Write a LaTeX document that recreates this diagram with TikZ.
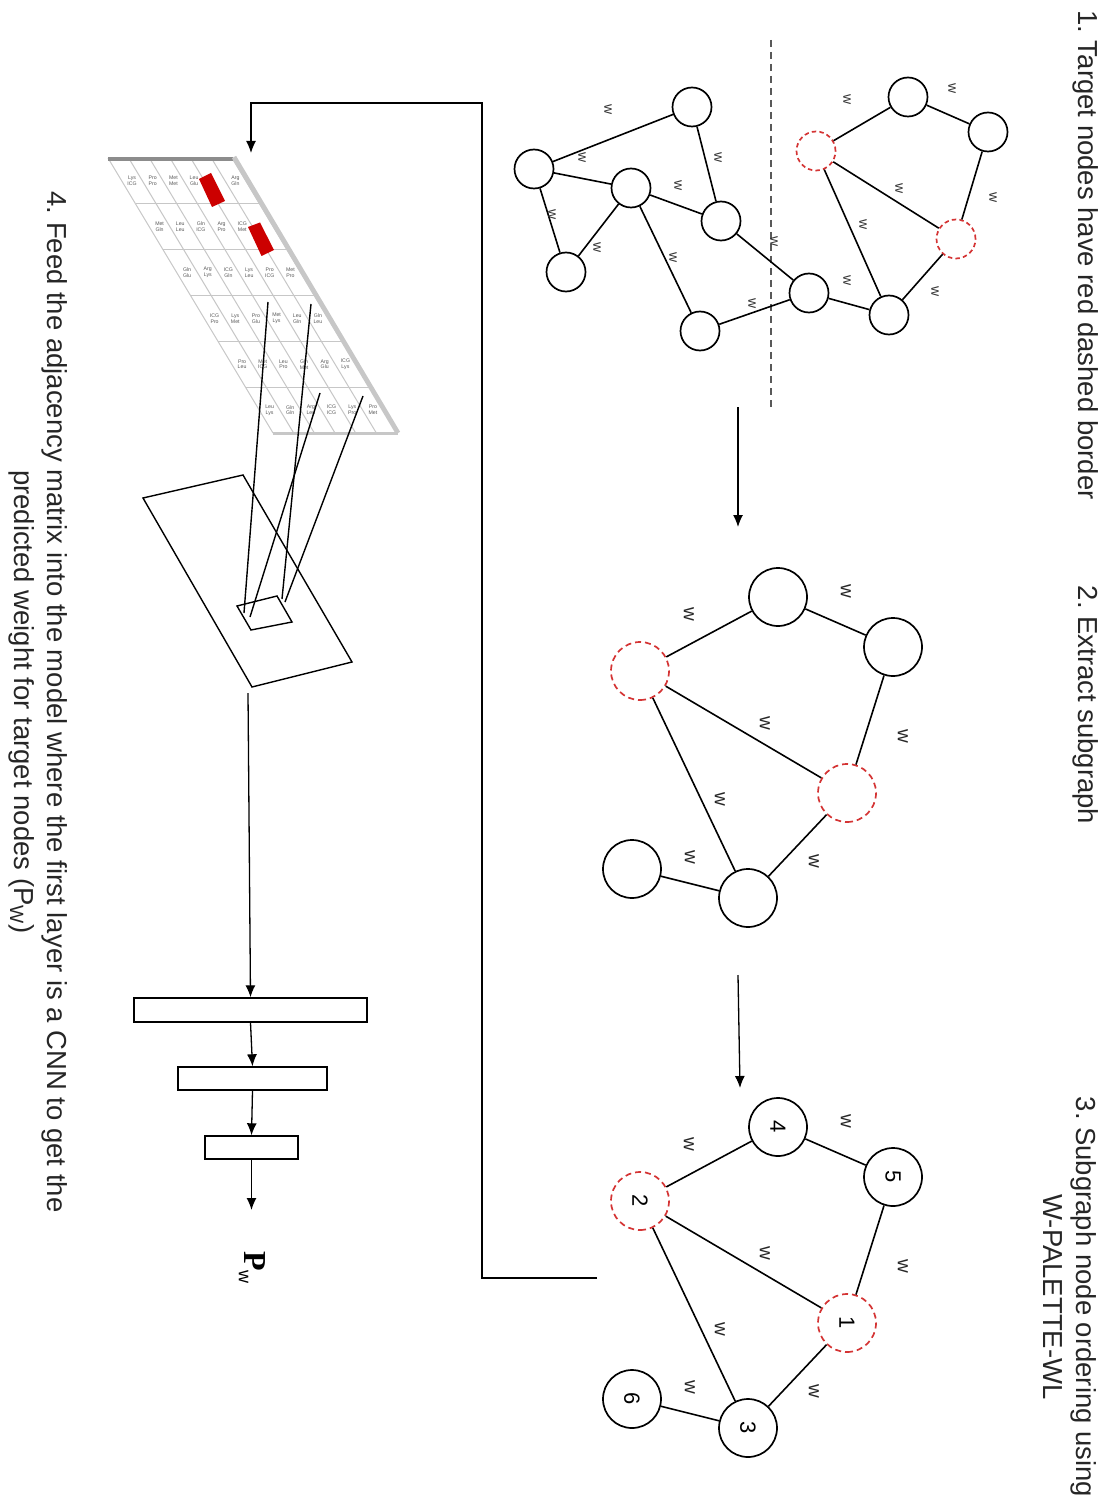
\documentclass[tikz,border=0pt]{standalone}
\usepackage{fontspec}
\setmainfont{Liberation Sans}
\newfontfamily\serifbf{Liberation Serif}
\usetikzlibrary{arrows.meta}
\definecolor{tred}{RGB}{212,52,52}
\definecolor{cellred}{RGB}{204,0,0}
\frenchspacing

\begin{document}
\begin{tikzpicture}[x=0.5pt,y=-0.5pt,
  title/.style={rotate=-90, font=\fontsize{13.75}{16.5}\selectfont, align=center, inner sep=0pt, text=black!85},
  wl/.style={rotate=-90, font=\fontsize{9.5}{10}\selectfont, inner sep=0pt, text=black!85},
  wls/.style={rotate=-90, font=\fontsize{7}{8}\selectfont, inner sep=0pt, text=black!80},
  snode/.style={circle, draw, line width=0.85pt, minimum size=19.5pt, inner sep=0pt},
  bnode/.style={circle, draw, line width=0.85pt, minimum size=29pt, inner sep=0pt, rotate=-90,
                font=\fontsize{11}{12}\selectfont},
  tgt/.style={draw=tred, dash pattern=on 3pt off 2pt},
  gedge/.style={line width=0.8pt},
  arr/.style={line width=0.65pt, -{Latex[length=6pt,width=5pt]}},
  layerbox/.style={draw, line width=0.7pt, inner sep=0pt},
  gridl/.style={draw=black!22, line width=0.5pt},
  cell/.style={font=\fontsize{2.6}{2.9}\selectfont, text=black!65, align=center, inner sep=0pt}
]
\useasboundingbox (0,0) rectangle (1108,1508);

% ---------- step titles ----------
\node[title] (t1) at (1086,255) {1. Target nodes have red dashed border};
\node[title] (t2) at (1086,705) {2. Extract subgraph};
\node[title] (t3) at (1070,1297) {3. Subgraph node ordering using\\W-PALETTE-WL};
\node[title] (t4) at (38,702) {4. Feed the adjacency matrix into the model where the first layer is a CNN to get the\\predicted weight for target nodes (P\textsubscript{W})};

% ---------- whole graph ----------
\draw[black!65, line width=0.6pt, dash pattern=on 3.5pt off 2.5pt] (771,40) -- (771,410);

\node[snode] (ta) at (534,169) {};
\node[snode] (tb) at (692,107) {};
\node[snode] (tc) at (631,188) {};
\node[snode] (td) at (566,272) {};
\node[snode] (te) at (721,221) {};
\node[snode] (tf) at (700,331) {};
\node[snode] (tg) at (809,293) {};
\node[snode] (th) at (889,315) {};
\node[snode,tgt,dash pattern=on 2.2pt off 1.6pt] (tr1) at (816,151) {};
\node[snode] (ti) at (908,97) {};
\node[snode] (tj) at (988,132) {};
\node[snode,tgt,dash pattern=on 2.2pt off 1.6pt] (tr2) at (956,239) {};

\draw[gedge] (ta) -- (tb);
\draw[gedge] (ta) -- (tc);
\draw[gedge] (ta) -- (td);
\draw[gedge] (tc) -- (td);
\draw[gedge] (tc) -- (te);
\draw[gedge] (tb) -- (te);
\draw[gedge] (tc) -- (tf);
\draw[gedge] (te) -- (tg);
\draw[gedge] (tf) -- (tg);
\draw[gedge] (tg) -- (th);
\draw[gedge] (th) -- (tr1);
\draw[gedge] (th) -- (tr2);
\draw[gedge] (tr1) -- (tr2);
\draw[gedge] (tr1) -- (ti);
\draw[gedge] (ti) -- (tj);
\draw[gedge] (tj) -- (tr2);

\node[wls] (tw1) at (608,110) {w};
\node[wls] (tw2) at (582,158) {w};
\node[wls] (tw3) at (552,215) {w};
\node[wls] (tw4) at (597,248) {w};
\node[wls] (tw5) at (678,186) {w};
\node[wls] (tw6) at (718,158) {w};
\node[wls] (tw7) at (673,258) {w};
\node[wls] (tw8) at (774,242) {w};
\node[wls] (tw9) at (752,304) {w};
\node[wls] (tw10) at (847,281) {w};
\node[wls] (tw11) at (863,225) {w};
\node[wls] (tw12) at (935,292) {w};
\node[wls] (tw13) at (899,189) {w};
\node[wls] (tw14) at (847,100) {w};
\node[wls] (tw15) at (952,89) {w};
\node[wls] (tw16) at (993,198) {w};

% ---------- extracted and ordered subgraphs ----------
\foreach \dy/\p/\lbl in {0/m/0,530/b/1}{
  \begin{scope}[shift={(0,\dy)}]
    \node[bnode,tgt] (\p1) at (847,793) {\ifnum\lbl=1 1\fi};
    \node[bnode,tgt] (\p2) at (640,671) {\ifnum\lbl=1 2\fi};
    \node[bnode] (\p3) at (748,898) {\ifnum\lbl=1 3\fi};
    \node[bnode] (\p4) at (778,597) {\ifnum\lbl=1 4\fi};
    \node[bnode] (\p5) at (893,647) {\ifnum\lbl=1 5\fi};
    \node[bnode] (\p6) at (632,869) {\ifnum\lbl=1 6\fi};
    \draw[gedge] (\p2) -- (\p4);
    \draw[gedge] (\p4) -- (\p5);
    \draw[gedge] (\p5) -- (\p1);
    \draw[gedge] (\p2) -- (\p1);
    \draw[gedge] (\p2) -- (\p3);
    \draw[gedge] (\p1) -- (\p3);
    \draw[gedge] (\p6) -- (\p3);
    \node[wl] (\p-w24) at (689,614) {w};
    \node[wl] (\p-w45) at (846,591) {w};
    \node[wl] (\p-w51) at (903,736) {w};
    \node[wl] (\p-w21) at (765,723) {w};
    \node[wl] (\p-w23) at (720,799) {w};
    \node[wl] (\p-w13) at (814,861) {w};
    \node[wl] (\p-w63) at (690,857) {w};
  \end{scope}
}

\coordinate (a1s) at (738,407);
\coordinate (a1e) at (738,527);
\coordinate (a2s) at (738,975);
\coordinate (a2e) at (740,1088);
\draw[arr] (a1s) -- (a1e);
\draw[arr] (a2s) -- (a2e);

% ---------- feed line to adjacency matrix ----------
\coordinate (fs) at (597,1278);
\coordinate (fe) at (251,153);
\draw[arr] (fs) -- (482,1278) -- (482,103) -- (251,103) -- (fe);

% ---------- adjacency matrix (slanted grid) ----------
\fill[white] (108,158) -- (232,158) -- (395,433) -- (273,433) -- cycle;
\foreach \v in {0,...,5}{
  \foreach \u in {0,...,5}{
    \pgfmathtruncatemacro\cellid{\v*6+\u}
    \pgfmathsetmacro\cx{108+20.667*(\u+0.5)+27.5*(\v+0.5)}
    \pgfmathsetmacro\cy{158+45.833*(\v+0.5)}
    \pgfmathparse{{"Lys","Pro","Met","Leu","Gln","Arg","ICG"}[int(mod(\u+2*\v,7))]}
    \let\wa\pgfmathresult
    \pgfmathparse{{"ICG","Gln","Glu","Pro","Leu","Lys","Met"}[int(mod(3*\u+\v,7))]}
    \let\wb\pgfmathresult
    \ifnum\cellid=4 \else\ifnum\cellid=11 \else
      \node[cell] (c\cellid) at (\cx,\cy) {\wa\\\wb};
    \fi\fi
  }
}
\foreach \v in {0,...,6}
  \draw[gridl] ({108+27.5*\v},{158+45.833*\v}) -- ({232+27.5*\v},{158+45.833*\v});
\foreach \u in {0,...,6}
  \draw[gridl] ({108+20.667*\u},158) -- ({273+20.667*\u},433);
\fill[cellred] (199,179) -- (211,173) -- (225,201) -- (212,207) -- cycle;
\fill[cellred] (248,227) -- (260,222.5) -- (274,250) -- (261.5,256) -- cycle;
\draw[black!45, line width=2pt] (108,159.5) -- (233,159.5);
\draw[black!22, line width=2.4pt] (234,157) -- (398,433);
\draw[black!22, line width=1.2pt] (273,434) -- (398,434);

% ---------- convolution plane ----------
\draw[line width=0.7pt] (143,498) -- (243,475) -- (352,662) -- (252,687) -- cycle;
\coordinate (k1) at (237,606);
\coordinate (k2) at (277,596);
\coordinate (k3) at (292,622);
\coordinate (k4) at (251,630);
\draw[line width=0.7pt] (k1) -- (k2) -- (k3) -- (k4) -- cycle;
\coordinate (m1) at (268,302);
\coordinate (m2) at (311,304);
\coordinate (m3) at (320,393);
\coordinate (m4) at (363,396);
\draw[line width=0.7pt] (m1) -- (244,613);
\draw[line width=0.7pt] (m2) -- (282,599);
\draw[line width=0.7pt] (m3) -- (250,617);
\draw[line width=0.7pt] (m4) -- (285,602);

% ---------- dense layers ----------
\coordinate (cs) at (248,693);
\node[layerbox, minimum width=116.5pt, minimum height=12pt] (l1) at (250.5,1010) {};
\node[layerbox, minimum width=74.5pt, minimum height=11.5pt] (l2) at (252.5,1078.5) {};
\node[layerbox, minimum width=46.5pt, minimum height=11.5pt] (l3) at (251.5,1147.5) {};
\coordinate (oe) at (251.5,1210);
\draw[arr] (cs) -- (l1.north);
\draw[arr] (l1.south) -- (l2.north);
\draw[arr] (l2.south) -- (l3.north);
\draw[arr] (l3.south) -- (oe);
\node[rotate=-90, inner sep=0pt] (pw) at (252,1268) {\serifbf\fontsize{16}{17}\selectfont\bfseries P\textsubscript{\normalfont\fontsize{9}{10}\selectfont w}};

\end{tikzpicture}
\end{document}
